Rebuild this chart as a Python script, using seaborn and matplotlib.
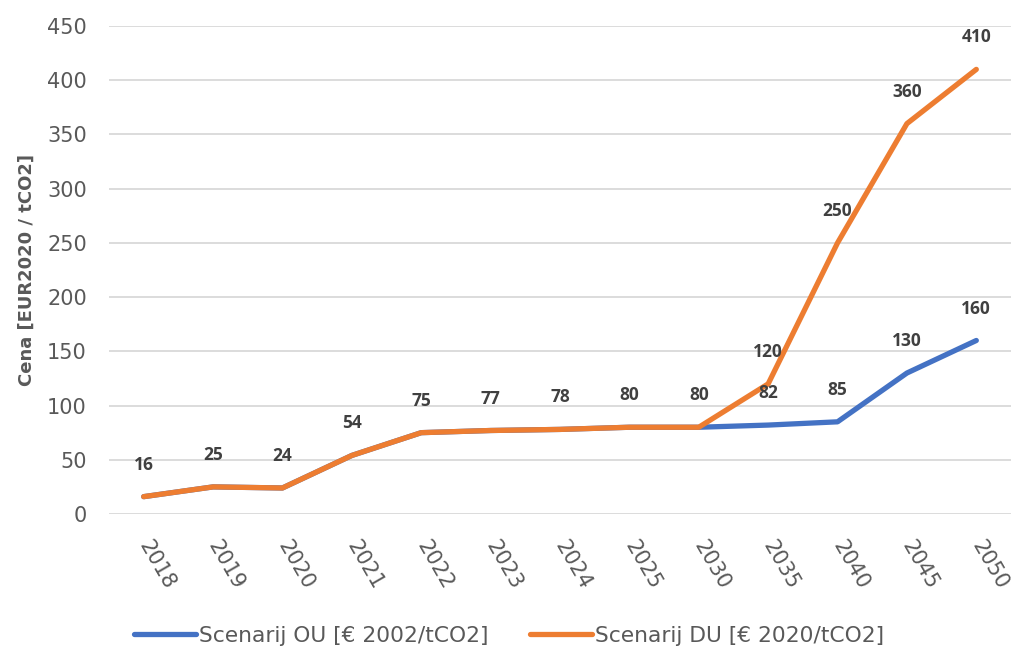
import matplotlib
matplotlib.use("Agg")
import matplotlib.pyplot as plt
import seaborn as sns
import pandas as pd
from matplotlib.lines import Line2D

years = ["2018", "2019", "2020", "2021", "2022", "2023", "2024",
         "2025", "2030", "2035", "2040", "2045", "2050"]
ou_values = [16, 25, 24, 54, 75, 77, 78, 80, 80, 82, 85, 130, 160]
du_values = [16, 25, 24, 54, 75, 77, 78, 80, 80, 120, 250, 360, 410]
series_names = ["Scenarij OU [€ 2002/tCO2]", "Scenarij DU [€ 2020/tCO2]"]
y_ticks = [0, 50, 100, 150, 200, 250, 300, 350, 400, 450]

BLUE = "#4472C4"
ORANGE = "#ED7D31"
TICK_GRAY = "#595959"
LABEL_GRAY = "#404040"
GRID = "#D9D9D9"

sns.set_theme(style="white")
plt.rcParams["font.family"] = ["DejaVu Sans"]

df = pd.DataFrame({
    "pos": list(range(len(years))) * 2,
    "value": ou_values + du_values,
    "series": [series_names[0]] * len(years) + [series_names[1]] * len(years),
})

fig = plt.figure(figsize=(10.11, 6.53), dpi=100)
ax = fig.add_axes([109 / 1011, 1 - 514 / 653, (1011 - 109) / 1011, (514 - 26) / 653])

sns.lineplot(data=df, x="pos", y="value", hue="series",
             palette=[BLUE, ORANGE], linewidth=3.8, ax=ax, legend=False,
             sort=False)
for line in ax.get_lines():
    line.set_solid_capstyle("round")
    line.set_solid_joinstyle("round")

ax.set_xlim(-0.5, len(years) - 0.5)
ax.set_ylim(0, 450)
ax.set_yticks(y_ticks)
ax.set_xticks(range(len(years)))
ax.set_xticklabels(years, rotation=-60, ha="left", va="center",
                   rotation_mode="anchor")
ax.yaxis.grid(True, color=GRID, linewidth=1.3)
ax.xaxis.grid(False)
ax.set_axisbelow(True)
for s in ax.spines.values():
    s.set_visible(False)
ax.tick_params(axis="y", length=0, pad=16, labelsize=15, labelcolor=TICK_GRAY)
ax.tick_params(axis="x", length=0, pad=20, labelsize=15, labelcolor=TICK_GRAY)
ax.set_xlabel("")
ax.set_ylabel("Cena [EUR2020 / tCO2]", fontsize=13, fontweight="bold",
              color=TICK_GRAY, labelpad=8)

# value labels: DU everywhere, OU only where it differs from DU
label_font = dict(fontsize=12.5, fontweight="bold", color=LABEL_GRAY,
                  family=["Open Sans", "DejaVu Sans"])
for i, (ou, du) in enumerate(zip(ou_values, du_values)):
    ax.annotate(str(du), (i, du), xytext=(0, 23), textcoords="offset points",
                ha="center", va="center", **label_font)
    if ou != du:
        ax.annotate(str(ou), (i, ou), xytext=(0, 23), textcoords="offset points",
                    ha="center", va="center", **label_font)

handles = [Line2D([], [], color=BLUE, linewidth=3.8, solid_capstyle="round"),
           Line2D([], [], color=ORANGE, linewidth=3.8, solid_capstyle="round")]
leg = fig.legend(handles, series_names, loc="center", bbox_to_anchor=(509 / 1011, 1 - 636 / 653),
                 ncol=2, frameon=False, fontsize=15.7, handlelength=2.85,
                 handletextpad=0.12, columnspacing=1.9)
for t in leg.get_texts():
    t.set_color(TICK_GRAY)

fig.savefig("out.png", dpi=100)
